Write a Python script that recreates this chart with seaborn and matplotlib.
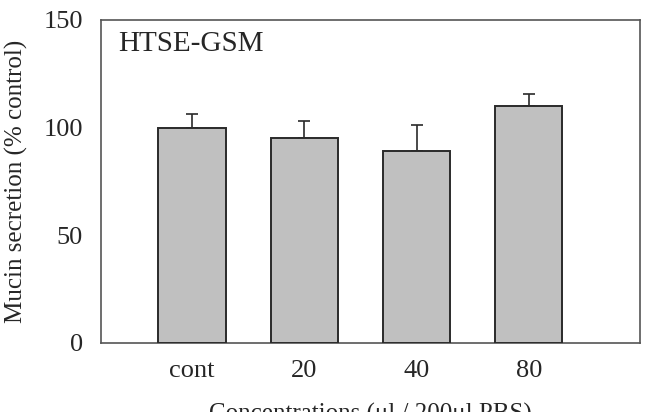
import pandas as pd
import numpy as np
import seaborn as sns
import matplotlib.pyplot as plt

# valori
concentrazioni = ['cont', '20', '40', '80']
secrezione = [100, 95, 89, 110]
errore = [6.5, 8, 12, 5.7]

df = pd.DataFrame({'conc': concentrazioni, 'mucin': secrezione})

sns.set_style('white')
plt.rcParams['font.family'] = ['Liberation Serif', 'DejaVu Serif']

fig = plt.figure(figsize=(6.45, 4.12), dpi=100)
ax = fig.add_axes([0.1566, 0.1675, 0.8356, 0.784])

sns.barplot(data=df, x='conc', y='mucin', color='#c0c0c0', saturation=1,
            errorbar=None, width=0.6, edgecolor='#2a2a2a', linewidth=1.4,
            ax=ax, zorder=3)

pos = np.arange(len(concentrazioni))
ax.errorbar(pos, secrezione, yerr=[np.zeros(len(errore)), errore], fmt='none',
            ecolor='#2a2a2a', elinewidth=1.2, capsize=4, capthick=1.2, zorder=2)

ax.set_xlim(-0.81, 3.99)
ax.set_ylim(0, 150)
ax.set_yticks([0, 50, 100, 150])

for s in ax.spines.values():
    s.set_color('#555555')
    s.set_linewidth(1.2)

ax.tick_params(axis='y', direction='in', length=5, width=1, color='#555555',
               labelsize=19, pad=13)
ax.tick_params(axis='x', direction='in', length=2, width=1, color='#555555',
               labelsize=19, pad=12)

ax.set_ylabel('Mucin secretion (% control)', fontsize=18, labelpad=11)
ax.set_xlabel('Concentrations (μl / 200μl PBS)', fontsize=18, labelpad=15)

ax.text(0.032, 0.965, 'HTSE-GSM', transform=ax.transAxes, fontsize=21,
        va='top', ha='left')

plt.savefig('out.png', dpi=100)
